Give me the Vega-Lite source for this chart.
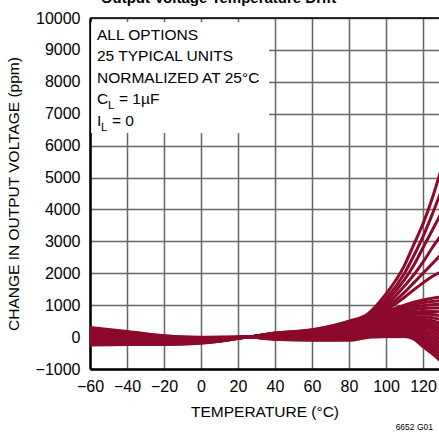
{
"$schema": "https://vega.github.io/schema/vega-lite/v6.json",
"width": 349, "height": 351,
"autosize": {"type": "none"},
"padding": {"left": 90, "top": 18, "right": 0, "bottom": 64},
"background": "white",
"config": {"view": {"stroke": null}, "font": "Liberation Sans"},
"title": {"text": "Output Voltage Temperature Drift", "font": "Liberation Sans", "fontSize": 15, "fontWeight": "bold", "color": "black", "anchor": "middle", "frame": "group", "offset": -8, "baseline": "alphabetic", "dx": -46},
"data": {"name": "curves"},
"datasets": {"curves": [
{"u":"U1","t":-60,"v":53},{"u":"U1","t":-40,"v":-7},{"u":"U1","t":-20,"v":-79},{"u":"U1","t":0,"v":-88},{"u":"U1","t":15,"v":-40},{"u":"U1","t":25,"v":0},{"u":"U1","t":40,"v":130},{"u":"U1","t":60,"v":230},{"u":"U1","t":80,"v":500},{"u":"U1","t":90,"v":720},{"u":"U1","t":100,"v":1350},{"u":"U1","t":110,"v":2250},{"u":"U1","t":115,"v":2900},{"u":"U1","t":120,"v":3550},{"u":"U1","t":125,"v":4350},{"u":"U1","t":130,"v":5300},
{"u":"U2","t":-60,"v":-85},{"u":"U2","t":-40,"v":-108},{"u":"U2","t":-20,"v":-148},{"u":"U2","t":0,"v":-135},{"u":"U2","t":15,"v":-63},{"u":"U2","t":25,"v":0},{"u":"U2","t":40,"v":124},{"u":"U2","t":60,"v":220},{"u":"U2","t":80,"v":482},{"u":"U2","t":90,"v":680},{"u":"U2","t":100,"v":1200},{"u":"U2","t":110,"v":2000},{"u":"U2","t":115,"v":2550},{"u":"U2","t":120,"v":3150},{"u":"U2","t":125,"v":3850},{"u":"U2","t":130,"v":4600},
{"u":"U3","t":-60,"v":190},{"u":"U3","t":-40,"v":94},{"u":"U3","t":-20,"v":-10},{"u":"U3","t":0,"v":-42},{"u":"U3","t":15,"v":-18},{"u":"U3","t":25,"v":0},{"u":"U3","t":40,"v":118},{"u":"U3","t":60,"v":210},{"u":"U3","t":80,"v":464},{"u":"U3","t":90,"v":640},{"u":"U3","t":100,"v":1100},{"u":"U3","t":110,"v":1800},{"u":"U3","t":115,"v":2250},{"u":"U3","t":120,"v":2800},{"u":"U3","t":125,"v":3350},{"u":"U3","t":130,"v":3900},
{"u":"U4","t":-60,"v":-167},{"u":"U4","t":-40,"v":-169},{"u":"U4","t":-20,"v":-189},{"u":"U4","t":0,"v":-162},{"u":"U4","t":15,"v":-77},{"u":"U4","t":25,"v":0},{"u":"U4","t":40,"v":112},{"u":"U4","t":60,"v":200},{"u":"U4","t":80,"v":446},{"u":"U4","t":90,"v":600},{"u":"U4","t":100,"v":1000},{"u":"U4","t":110,"v":1600},{"u":"U4","t":115,"v":1950},{"u":"U4","t":120,"v":2350},{"u":"U4","t":125,"v":2800},{"u":"U4","t":130,"v":3200},
{"u":"U5","t":-60,"v":108},{"u":"U5","t":-40,"v":33},{"u":"U5","t":-20,"v":-51},{"u":"U5","t":0,"v":-70},{"u":"U5","t":15,"v":-32},{"u":"U5","t":25,"v":0},{"u":"U5","t":40,"v":106},{"u":"U5","t":60,"v":190},{"u":"U5","t":80,"v":428},{"u":"U5","t":90,"v":570},{"u":"U5","t":100,"v":920},{"u":"U5","t":110,"v":1400},{"u":"U5","t":115,"v":1700},{"u":"U5","t":120,"v":2000},{"u":"U5","t":125,"v":2300},{"u":"U5","t":130,"v":2600},
{"u":"U6","t":-60,"v":-30},{"u":"U6","t":-40,"v":-68},{"u":"U6","t":-20,"v":-120},{"u":"U6","t":0,"v":-116},{"u":"U6","t":15,"v":-54},{"u":"U6","t":25,"v":0},{"u":"U6","t":40,"v":100},{"u":"U6","t":60,"v":180},{"u":"U6","t":80,"v":410},{"u":"U6","t":90,"v":540},{"u":"U6","t":100,"v":850},{"u":"U6","t":110,"v":1250},{"u":"U6","t":115,"v":1480},{"u":"U6","t":120,"v":1700},{"u":"U6","t":125,"v":1900},{"u":"U6","t":130,"v":2050},
{"u":"L1","t":-60,"v":245},{"u":"L1","t":-40,"v":135},{"u":"L1","t":-20,"v":18},{"u":"L1","t":0,"v":-24},{"u":"L1","t":15,"v":-9},{"u":"L1","t":25,"v":0},{"u":"L1","t":40,"v":86},{"u":"L1","t":60,"v":157},{"u":"L1","t":80,"v":368},{"u":"L1","t":90,"v":540},{"u":"L1","t":100,"v":800},{"u":"L1","t":110,"v":1000},{"u":"L1","t":115,"v":1090},{"u":"L1","t":120,"v":1160},{"u":"L1","t":125,"v":1215},{"u":"L1","t":130,"v":1260},
{"u":"L2","t":-60,"v":-223},{"u":"L2","t":-40,"v":-210},{"u":"L2","t":-20,"v":-216},{"u":"L2","t":0,"v":-181},{"u":"L2","t":15,"v":-86},{"u":"L2","t":25,"v":0},{"u":"L2","t":40,"v":77},{"u":"L2","t":60,"v":143},{"u":"L2","t":80,"v":342},{"u":"L2","t":90,"v":505},{"u":"L2","t":100,"v":740},{"u":"L2","t":110,"v":935},{"u":"L2","t":115,"v":1015},{"u":"L2","t":120,"v":1075},{"u":"L2","t":125,"v":1115},{"u":"L2","t":130,"v":1150},
{"u":"L3","t":-60,"v":-2},{"u":"L3","t":-40,"v":-48},{"u":"L3","t":-20,"v":-106},{"u":"L3","t":0,"v":-107},{"u":"L3","t":15,"v":-50},{"u":"L3","t":25,"v":0},{"u":"L3","t":40,"v":69},{"u":"L3","t":60,"v":129},{"u":"L3","t":80,"v":316},{"u":"L3","t":90,"v":470},{"u":"L3","t":100,"v":690},{"u":"L3","t":110,"v":870},{"u":"L3","t":115,"v":940},{"u":"L3","t":120,"v":985},{"u":"L3","t":125,"v":1015},{"u":"L3","t":130,"v":1040},
{"u":"L4","t":-60,"v":135},{"u":"L4","t":-40,"v":54},{"u":"L4","t":-20,"v":-38},{"u":"L4","t":0,"v":-60},{"u":"L4","t":15,"v":-27},{"u":"L4","t":25,"v":0},{"u":"L4","t":40,"v":60},{"u":"L4","t":60,"v":115},{"u":"L4","t":80,"v":290},{"u":"L4","t":90,"v":440},{"u":"L4","t":100,"v":640},{"u":"L4","t":110,"v":800},{"u":"L4","t":115,"v":860},{"u":"L4","t":120,"v":895},{"u":"L4","t":125,"v":910},{"u":"L4","t":130,"v":910},
{"u":"L5","t":-60,"v":-113},{"u":"L5","t":-40,"v":-129},{"u":"L5","t":-20,"v":-161},{"u":"L5","t":0,"v":-144},{"u":"L5","t":15,"v":-68},{"u":"L5","t":25,"v":0},{"u":"L5","t":40,"v":51},{"u":"L5","t":60,"v":100},{"u":"L5","t":80,"v":264},{"u":"L5","t":90,"v":410},{"u":"L5","t":100,"v":590},{"u":"L5","t":110,"v":730},{"u":"L5","t":115,"v":780},{"u":"L5","t":120,"v":805},{"u":"L5","t":125,"v":805},{"u":"L5","t":130,"v":790},
{"u":"L6","t":-60,"v":300},{"u":"L6","t":-40,"v":175},{"u":"L6","t":-20,"v":45},{"u":"L6","t":0,"v":-5},{"u":"L6","t":15,"v":0},{"u":"L6","t":25,"v":0},{"u":"L6","t":40,"v":43},{"u":"L6","t":60,"v":86},{"u":"L6","t":80,"v":238},{"u":"L6","t":90,"v":380},{"u":"L6","t":100,"v":545},{"u":"L6","t":110,"v":665},{"u":"L6","t":115,"v":705},{"u":"L6","t":120,"v":720},{"u":"L6","t":125,"v":705},{"u":"L6","t":130,"v":660},
{"u":"L7","t":-60,"v":80},{"u":"L7","t":-40,"v":13},{"u":"L7","t":-20,"v":-65},{"u":"L7","t":0,"v":-79},{"u":"L7","t":15,"v":-36},{"u":"L7","t":25,"v":0},{"u":"L7","t":40,"v":34},{"u":"L7","t":60,"v":72},{"u":"L7","t":80,"v":212},{"u":"L7","t":90,"v":350},{"u":"L7","t":100,"v":500},{"u":"L7","t":110,"v":600},{"u":"L7","t":115,"v":630},{"u":"L7","t":120,"v":635},{"u":"L7","t":125,"v":605},{"u":"L7","t":130,"v":540},
{"u":"L8","t":-60,"v":-195},{"u":"L8","t":-40,"v":-190},{"u":"L8","t":-20,"v":-203},{"u":"L8","t":0,"v":-172},{"u":"L8","t":15,"v":-81},{"u":"L8","t":25,"v":0},{"u":"L8","t":40,"v":25},{"u":"L8","t":60,"v":57},{"u":"L8","t":80,"v":186},{"u":"L8","t":90,"v":320},{"u":"L8","t":100,"v":455},{"u":"L8","t":110,"v":545},{"u":"L8","t":115,"v":565},{"u":"L8","t":120,"v":560},{"u":"L8","t":125,"v":510},{"u":"L8","t":130,"v":420},
{"u":"L9","t":-60,"v":-58},{"u":"L9","t":-40,"v":-88},{"u":"L9","t":-20,"v":-134},{"u":"L9","t":0,"v":-125},{"u":"L9","t":15,"v":-59},{"u":"L9","t":25,"v":0},{"u":"L9","t":40,"v":17},{"u":"L9","t":60,"v":43},{"u":"L9","t":80,"v":160},{"u":"L9","t":90,"v":290},{"u":"L9","t":100,"v":410},{"u":"L9","t":110,"v":490},{"u":"L9","t":115,"v":505},{"u":"L9","t":120,"v":490},{"u":"L9","t":125,"v":430},{"u":"L9","t":130,"v":320},
{"u":"L10","t":-60,"v":218},{"u":"L10","t":-40,"v":114},{"u":"L10","t":-20,"v":4},{"u":"L10","t":0,"v":-33},{"u":"L10","t":15,"v":-14},{"u":"L10","t":25,"v":0},{"u":"L10","t":40,"v":8},{"u":"L10","t":60,"v":29},{"u":"L10","t":80,"v":134},{"u":"L10","t":90,"v":260},{"u":"L10","t":100,"v":370},{"u":"L10","t":110,"v":440},{"u":"L10","t":115,"v":450},{"u":"L10","t":120,"v":425},{"u":"L10","t":125,"v":350},{"u":"L10","t":130,"v":220},
{"u":"L11","t":-60,"v":25},{"u":"L11","t":-40,"v":-28},{"u":"L11","t":-20,"v":-93},{"u":"L11","t":0,"v":-98},{"u":"L11","t":15,"v":-45},{"u":"L11","t":25,"v":0},{"u":"L11","t":40,"v":-1},{"u":"L11","t":60,"v":15},{"u":"L11","t":80,"v":108},{"u":"L11","t":90,"v":230},{"u":"L11","t":100,"v":330},{"u":"L11","t":110,"v":390},{"u":"L11","t":115,"v":400},{"u":"L11","t":120,"v":365},{"u":"L11","t":125,"v":270},{"u":"L11","t":130,"v":110},
{"u":"L12","t":-60,"v":-140},{"u":"L12","t":-40,"v":-149},{"u":"L12","t":-20,"v":-175},{"u":"L12","t":0,"v":-153},{"u":"L12","t":15,"v":-72},{"u":"L12","t":25,"v":0},{"u":"L12","t":40,"v":-9},{"u":"L12","t":60,"v":0},{"u":"L12","t":80,"v":82},{"u":"L12","t":90,"v":200},{"u":"L12","t":100,"v":290},{"u":"L12","t":110,"v":340},{"u":"L12","t":115,"v":345},{"u":"L12","t":120,"v":290},{"u":"L12","t":125,"v":180},{"u":"L12","t":130,"v":0},
{"u":"L13","t":-60,"v":163},{"u":"L13","t":-40,"v":74},{"u":"L13","t":-20,"v":-24},{"u":"L13","t":0,"v":-51},{"u":"L13","t":15,"v":-23},{"u":"L13","t":25,"v":0},{"u":"L13","t":40,"v":-18},{"u":"L13","t":60,"v":-14},{"u":"L13","t":80,"v":56},{"u":"L13","t":90,"v":170},{"u":"L13","t":100,"v":250},{"u":"L13","t":110,"v":295},{"u":"L13","t":115,"v":290},{"u":"L13","t":120,"v":210},{"u":"L13","t":125,"v":80},{"u":"L13","t":130,"v":-110},
{"u":"L14","t":-60,"v":-250},{"u":"L14","t":-40,"v":-230},{"u":"L14","t":-20,"v":-230},{"u":"L14","t":0,"v":-190},{"u":"L14","t":15,"v":-90},{"u":"L14","t":25,"v":0},{"u":"L14","t":40,"v":-27},{"u":"L14","t":60,"v":-28},{"u":"L14","t":80,"v":30},{"u":"L14","t":90,"v":140},{"u":"L14","t":100,"v":210},{"u":"L14","t":110,"v":250},{"u":"L14","t":115,"v":235},{"u":"L14","t":120,"v":130},{"u":"L14","t":125,"v":-20},{"u":"L14","t":130,"v":-220},
{"u":"L15","t":-60,"v":273},{"u":"L15","t":-40,"v":155},{"u":"L15","t":-20,"v":31},{"u":"L15","t":0,"v":-14},{"u":"L15","t":15,"v":-5},{"u":"L15","t":25,"v":0},{"u":"L15","t":40,"v":-35},{"u":"L15","t":60,"v":-43},{"u":"L15","t":80,"v":4},{"u":"L15","t":90,"v":110},{"u":"L15","t":100,"v":170},{"u":"L15","t":110,"v":205},{"u":"L15","t":115,"v":180},{"u":"L15","t":120,"v":50},{"u":"L15","t":125,"v":-120},{"u":"L15","t":130,"v":-330},
{"u":"L16","t":-60,"v":-30},{"u":"L16","t":-40,"v":-68},{"u":"L16","t":-20,"v":-120},{"u":"L16","t":0,"v":-116},{"u":"L16","t":15,"v":-54},{"u":"L16","t":25,"v":0},{"u":"L16","t":40,"v":-44},{"u":"L16","t":60,"v":-57},{"u":"L16","t":80,"v":-22},{"u":"L16","t":90,"v":80},{"u":"L16","t":100,"v":130},{"u":"L16","t":110,"v":160},{"u":"L16","t":115,"v":125},{"u":"L16","t":120,"v":-30},{"u":"L16","t":125,"v":-220},{"u":"L16","t":130,"v":-440},
{"u":"L17","t":-60,"v":-85},{"u":"L17","t":-40,"v":-108},{"u":"L17","t":-20,"v":-148},{"u":"L17","t":0,"v":-135},{"u":"L17","t":15,"v":-63},{"u":"L17","t":25,"v":0},{"u":"L17","t":40,"v":-53},{"u":"L17","t":60,"v":-71},{"u":"L17","t":80,"v":-48},{"u":"L17","t":90,"v":50},{"u":"L17","t":100,"v":95},{"u":"L17","t":110,"v":115},{"u":"L17","t":115,"v":70},{"u":"L17","t":120,"v":-110},{"u":"L17","t":125,"v":-320},{"u":"L17","t":130,"v":-550},
{"u":"L18","t":-60,"v":80},{"u":"L18","t":-40,"v":13},{"u":"L18","t":-20,"v":-65},{"u":"L18","t":0,"v":-79},{"u":"L18","t":15,"v":-36},{"u":"L18","t":25,"v":0},{"u":"L18","t":40,"v":-61},{"u":"L18","t":60,"v":-86},{"u":"L18","t":80,"v":-74},{"u":"L18","t":90,"v":20},{"u":"L18","t":100,"v":55},{"u":"L18","t":110,"v":75},{"u":"L18","t":115,"v":10},{"u":"L18","t":120,"v":-200},{"u":"L18","t":125,"v":-420},{"u":"L18","t":130,"v":-660},
{"u":"L19","t":-60,"v":190},{"u":"L19","t":-40,"v":94},{"u":"L19","t":-20,"v":-10},{"u":"L19","t":0,"v":-42},{"u":"L19","t":15,"v":-18},{"u":"L19","t":25,"v":0},{"u":"L19","t":40,"v":-70},{"u":"L19","t":60,"v":-100},{"u":"L19","t":80,"v":-100},{"u":"L19","t":90,"v":-10},{"u":"L19","t":100,"v":20},{"u":"L19","t":110,"v":30},{"u":"L19","t":115,"v":-60},{"u":"L19","t":120,"v":-300},{"u":"L19","t":125,"v":-520},{"u":"L19","t":130,"v":-780}
]},
"layer": [
{"mark": {"type": "line", "interpolate": "monotone", "strokeWidth": 3, "color": "#8b0a2c", "clip": true},
 "encoding": {
  "x": {"field": "t", "type": "quantitative",
        "scale": {"domain": [-60, 128.65], "nice": false, "zero": false},
        "axis": {"values": [-60,-40,-20,0,20,40,60,80,100,120], "tickCount": 12, "format": "d", "title": "TEMPERATURE (°C)",
                 "titleFont": "Liberation Sans", "titleFontSize": 15.5, "titleFontWeight": "normal", "titleColor": "black", "titlePadding": 10,
                 "labelFont": "Liberation Sans", "labelFontSize": 16, "labelColor": "black", "labelPadding": 9, "labelFlush": false, "labelOverlap": false,
                 "ticks": false, "domainColor": "black", "domainWidth": 2.5, "gridColor": "#666666", "gridWidth": 1.5, "gridOpacity": 1}},
  "y": {"field": "v", "type": "quantitative",
        "scale": {"domain": [-1000, 10000], "nice": false, "zero": false},
        "axis": {"values": [-1000,0,1000,2000,3000,4000,5000,6000,7000,8000,9000,10000], "tickCount": 14, "format": "d", "title": "CHANGE IN OUTPUT VOLTAGE (ppm)",
                 "titleFont": "Liberation Sans", "titleFontSize": 15.5, "titleFontWeight": "normal", "titleColor": "black", "titlePadding": 14,
                 "labelFont": "Liberation Sans", "labelFontSize": 16, "labelColor": "black", "labelPadding": 10, "labelFlush": false, "labelOverlap": false,
                 "ticks": false, "domainColor": "black", "domainWidth": 2.5, "gridColor": "#666666", "gridWidth": 1.5, "gridOpacity": 1}},
  "detail": {"field": "u"}
 }},
{"data": {"values": [{}]}, "mark": {"type": "rule", "color": "black", "strokeWidth": 1.5}, "encoding": {"y": {"datum": 10000}}},
{"data": {"values": [{}]}, "mark": {"type": "rect", "color": "white", "opacity": 1}, "encoding": {"x": {"datum": -59.4}, "x2": {"datum": 36.8}, "y": {"datum": 9875}, "y2": {"datum": 6396}}},
{"data": {"values": [{}]}, "mark": {"type": "text", "align": "left", "baseline": "alphabetic", "font": "Liberation Sans", "fontSize": 15.5, "lineHeight": 21.6, "dx": 7, "color": "black",
          "text": ["ALL OPTIONS", "25 TYPICAL UNITS", "NORMALIZED AT 25°C", "C", "I"]},
 "encoding": {"x": {"datum": -60}, "y": {"datum": 9326}}},
{"data": {"values": [{}]}, "mark": {"type": "text", "align": "left", "baseline": "alphabetic", "font": "Liberation Sans", "fontSize": 11.5, "dx": 18, "color": "black", "text": "L"},
 "encoding": {"x": {"datum": -60}, "y": {"datum": 7148}}},
{"data": {"values": [{}]}, "mark": {"type": "text", "align": "left", "baseline": "alphabetic", "font": "Liberation Sans", "fontSize": 15.5, "dx": 29, "color": "black", "text": "= 1µF"},
 "encoding": {"x": {"datum": -60}, "y": {"datum": 7295}}},
{"data": {"values": [{}]}, "mark": {"type": "text", "align": "left", "baseline": "alphabetic", "font": "Liberation Sans", "fontSize": 11.5, "dx": 11, "color": "black", "text": "L"},
 "encoding": {"x": {"datum": -60}, "y": {"datum": 6474}}},
{"data": {"values": [{}]}, "mark": {"type": "text", "align": "left", "baseline": "alphabetic", "font": "Liberation Sans", "fontSize": 15.5, "dx": 22, "color": "black", "text": "= 0"},
 "encoding": {"x": {"datum": -60}, "y": {"datum": 6619}}},
{"data": {"values": [{}]}, "mark": {"type": "text", "align": "right", "baseline": "alphabetic", "font": "Liberation Sans", "fontSize": 8.5, "color": "black", "text": "6652 G01"},
 "encoding": {"x": {"datum": 125.4}, "y": {"datum": -2912}}}
]
}
